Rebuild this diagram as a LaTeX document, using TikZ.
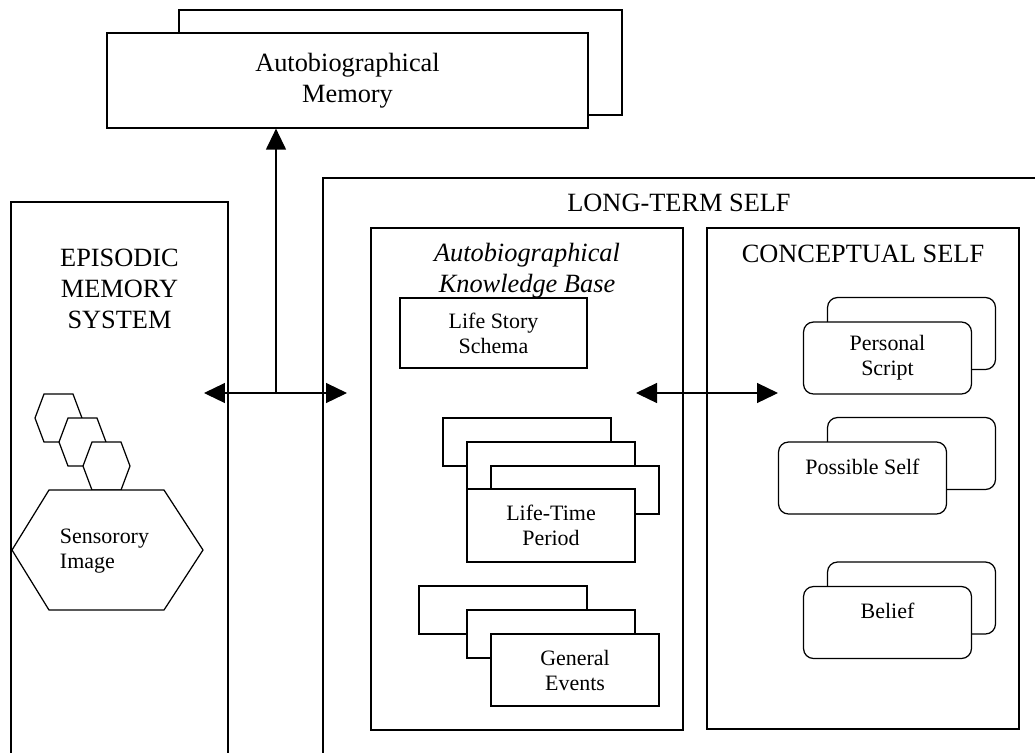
\documentclass[tikz,border=0pt]{standalone}
\usepackage{fontspec}
\setmainfont{Liberation Serif}
\usetikzlibrary{arrows.meta,positioning}

\begin{document}
\begin{tikzpicture}[
    x=0.02cm, y=-0.02cm, line width=0.7pt,
    every node/.style={inner sep=0pt},
    panel/.style={rectangle, draw, fill=white},
    heading/.style={font=\fontsize{15}{17.5}\selectfont, align=center},
    boxtext/.style={font=\fontsize{12.5}{14.2}\selectfont, align=center},
    card/.style={rectangle, draw, fill=white, minimum width=33.6mm, minimum height=9.6mm},
    rcard/.style={rectangle, draw, fill=white, rounded corners=2mm, minimum width=33.6mm, minimum height=14.4mm},
    hexa/.style={draw, fill=white},
    arr/.style={-{Triangle[length=4.2mm, width=4mm]}},
    darr/.style={{Triangle[length=4.2mm, width=4mm]}-{Triangle[length=4.2mm, width=4mm]}}
]

% Page
\useasboundingbox (0,0) rectangle (1035,752);
\clip (0,0) rectangle (1035,752);

% Autobiographical memory
\node[panel, minimum width=88.6mm, minimum height=21mm] (amback) at (400.5,62.5) {};
\node[panel, heading, minimum width=96.2mm, minimum height=19mm] (am) at (347.5,80.5) {Autobiographical\\Memory};

% Episodic memory system
\node[panel, minimum width=43.4mm, minimum height=120mm] (epi) at (119.5,502) {};
\node[heading] (epititle) at (119.5,289) {EPISODIC\\MEMORY\\SYSTEM};

\foreach \i in {0,1,2}
  \draw[hexa] ({35+24*\i},{418+24*\i}) -- ++(9,-24) -- ++(29,0) -- ++(9,24) -- ++(-9,24) -- ++(-29,0) -- cycle;
\draw[hexa] (12,550) -- (49,490) -- (164,490) -- (203,550) -- (164,610) -- (49,610) -- cycle;
\node[boxtext, align=left] (sens) at (104.5,551) {Sensorory\\Image};

% Long-term self
\node[panel, minimum width=147.4mm, minimum height=124.8mm] (lts) at (691.5,490) {};
\node[heading] (ltstitle) at (679,202.5) {LONG-TERM SELF};

\node[panel, minimum width=62.4mm, minimum height=100.4mm] (akb) at (527,479) {};
\node[heading, font=\fontsize{15}{17.5}\selectfont\itshape] (akbtitle) at (527,271) {Autobiographical\\Knowledge Base};

\node[panel, minimum width=62.4mm, minimum height=100.2mm] (cs) at (863,478.5) {};
\node[heading] (cstitle) at (863,253.5) {CONCEPTUAL SELF};

% Knowledge base contents
\node[card, boxtext, minimum width=37.4mm, minimum height=14mm] (lss) at (493.5,333) {Life Story\\Schema};

\node[card] (ltp1) at (527,442) {};
\node[card] (ltp2) at (551,466) {};
\node[card] (ltp3) at (575,490) {};
\node[card, boxtext, minimum height=14.6mm] (ltp) at (551,525.5) {Life-Time\\Period};

\node[card] (ge1) at (503,610) {};
\node[card] (ge2) at (551,634) {};
\node[card, boxtext, minimum height=14.4mm] (ge) at (575,670) {General\\Events};

% Conceptual self contents
\node[rcard] (ps1) at (911.5,333.5) {};
\node[rcard, boxtext] (ps) at (887.5,358) {Personal\\Script};

\node[rcard] (pos1) at (911.5,453.5) {};
\node[rcard] (pos) at (862.5,478) {};
\node[boxtext] (postext) at ([yshift=-5mm]pos.north) {Possible Self};

\node[rcard] (bel1) at (911.5,598) {};
\node[rcard] (bel) at (887.5,622.5) {};
\node[boxtext] (beltext) at ([yshift=-5mm]bel.north) {Belief};

% Connectors
\coordinate (junc) at (276,393);
\coordinate (epiend) at (204,393);
\coordinate (ltsend) at (347,393);
\coordinate (akbend) at (636,393);
\coordinate (csend) at (778,393);

\draw[darr] (epiend) -- (ltsend);
\draw[arr] (junc) -- (junc |- am.south);
\draw[darr] (akbend) -- (csend);

\end{tikzpicture}
\end{document}
